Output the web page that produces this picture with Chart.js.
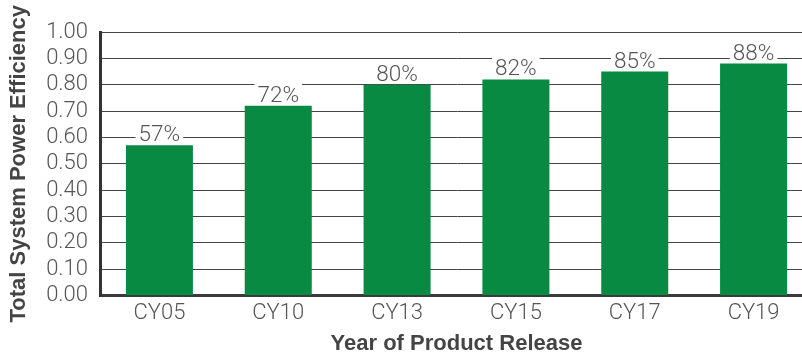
<!DOCTYPE html>
<html>
<head>
<meta charset="utf-8">
<script src="https://cdn.jsdelivr.net/npm/chart.js@4.4.1/dist/chart.umd.min.js"></script>
<style>
  html, body { margin: 0; padding: 0; background: #fff; overflow: hidden; }
  #wrap { width: 813px; height: 357px; }
</style>
</head>
<body>
<div id="wrap"><canvas id="c" width="813" height="357"></canvas></div>
<script>
// Release years and measured efficiency per release
const categories = ['CY05', 'CY10', 'CY13', 'CY15', 'CY17', 'CY19'];
const efficiency = [0.57, 0.72, 0.80, 0.82, 0.85, 0.88];
const yTicks = [0, 0.1, 0.2, 0.3, 0.4, 0.5, 0.6, 0.7, 0.8, 0.9, 1.0];

const GREEN = '#088a43';
const TEXT = '#555555';
const TITLE = '#444444';
const LIGHT_FONT = "'Roboto', 'Liberation Sans', Arial, sans-serif";
const BOLD_FONT = "'Liberation Sans', Arial, sans-serif";

// Percentage labels above each bar, on a white backing so grid lines break around them
const barLabels = {
  id: 'barLabels',
  afterDatasetsDraw(chart) {
    const ctx = chart.ctx;
    const meta = chart.getDatasetMeta(0);
    ctx.save();
    ctx.font = `300 22.5px ${LIGHT_FONT}`;
    ctx.textAlign = 'center';
    ctx.textBaseline = 'alphabetic';
    meta.data.forEach((bar, i) => {
      const v = chart.data.datasets[0].data[i];
      const text = Math.round(v * 100) + '%';
      const w = ctx.measureText(text).width;
      const base = bar.y - 4;
      ctx.fillStyle = '#ffffff';
      ctx.fillRect(bar.x - w / 2 - 3, base - 18, w + 6, 20);
      ctx.fillStyle = TEXT;
      ctx.fillText(text, bar.x, base);
    });
    ctx.restore();
  }
};

new Chart(document.getElementById('c'), {
  type: 'bar',
  data: {
    labels: categories,
    datasets: [{
      data: efficiency,
      backgroundColor: GREEN,
      borderWidth: 0,
      barPercentage: 0.564,
      categoryPercentage: 1.0
    }]
  },
  options: {
    responsive: false,
    animation: false,
    devicePixelRatio: 1,
    layout: { padding: { top: 32, right: 0, left: 0, bottom: 0 } },
    plugins: {
      legend: { display: false },
      tooltip: { enabled: false }
    },
    scales: {
      x: {
        grid: { display: false, drawTicks: false },
        border: { display: true, color: '#3a3a3a', width: 3 },
        ticks: {
          color: TEXT,
          font: { family: LIGHT_FONT, size: 22, weight: 300 },
          padding: 5
        },
        title: {
          display: true,
          text: 'Year of Product Release',
          color: TITLE,
          font: { family: BOLD_FONT, size: 22, weight: 'bold' },
          padding: { top: 0, bottom: 0 }
        },
        afterFit(scale) { scale.height = 61.5; }
      },
      y: {
        min: 0,
        max: 1,
        afterBuildTicks(scale) { scale.ticks = yTicks.map(v => ({ value: v })); },
        grid: { color: '#444444', lineWidth: 1, drawTicks: false },
        border: { display: true, color: '#333333', width: 3 },
        ticks: {
          color: TEXT,
          font: { family: LIGHT_FONT, size: 22, weight: 300 },
          padding: 12,
          autoSkip: false,
          callback: v => Number(v).toFixed(2)
        },
        title: {
          display: true,
          text: 'Total System Power Efficiency',
          color: TITLE,
          font: { family: BOLD_FONT, size: 22, weight: 'bold' },
          padding: { top: 6, bottom: 0 }
        },
        afterFit(scale) { scale.width = 100; }
      }
    }
  },
  plugins: [barLabels]
});
</script>
</body>
</html>
